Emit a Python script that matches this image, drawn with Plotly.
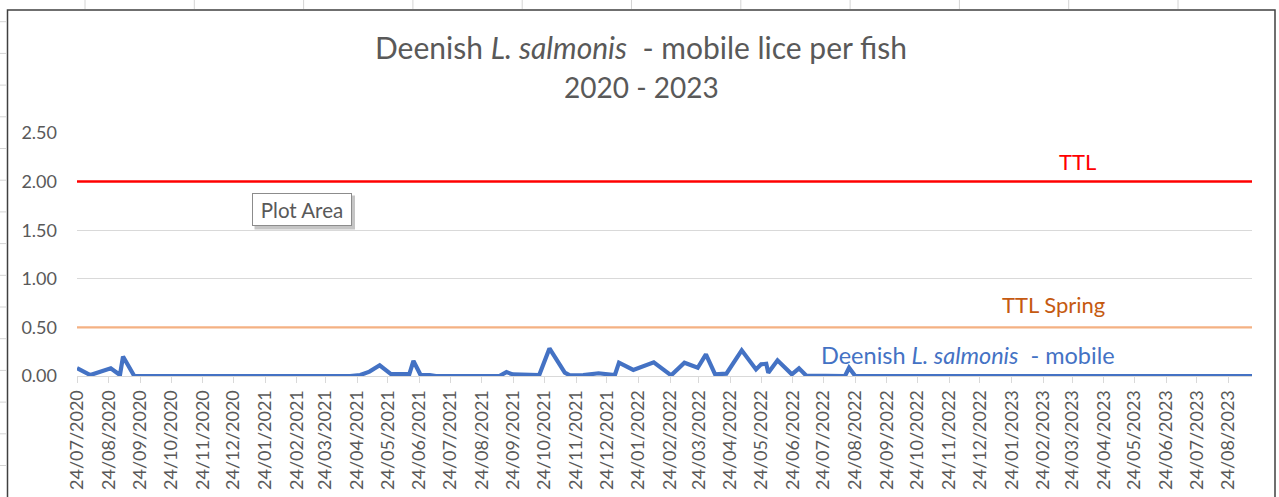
import plotly.graph_objects as go

# ---------------- data ----------------
dates = [
    "2020-07-24", "2020-08-06", "2020-08-26", "2020-09-04", "2020-09-07", "2020-09-18",
    "2021-04-17", "2021-04-27", "2021-05-06", "2021-05-16", "2021-05-27", "2021-06-14",
    "2021-06-18", "2021-06-25", "2021-07-04", "2021-07-10", "2021-09-10", "2021-09-17",
    "2021-09-23", "2021-10-19", "2021-10-29", "2021-11-13", "2021-11-18", "2021-12-01",
    "2021-12-16", "2022-01-01", "2022-01-05", "2022-01-19", "2022-02-08", "2022-02-25",
    "2022-03-10", "2022-03-23", "2022-03-31", "2022-04-09", "2022-04-20", "2022-05-05",
    "2022-05-19", "2022-05-24", "2022-05-29", "2022-05-31", "2022-06-09", "2022-06-23",
    "2022-06-30", "2022-07-07", "2022-08-14", "2022-08-18", "2022-08-24", "2023-05-25",
    "2023-06-03", "2023-06-18", "2023-09-16",
]
mobile = [
    0.08, 0.01, 0.08, 0.01, 0.20, 0.00,
    0.00, 0.01, 0.045, 0.11, 0.02, 0.02,
    0.155, 0.01, 0.01, 0.00, 0.00, 0.04,
    0.017, 0.01, 0.284, 0.034, 0.007, 0.01,
    0.028, 0.01, 0.137, 0.062, 0.14, 0.007,
    0.137, 0.085, 0.223, 0.017, 0.024, 0.264,
    0.068, 0.12, 0.126, 0.034, 0.161, 0.017,
    0.079, 0.005, 0.00, 0.085, 0.00, 0.00,
    0.01, 0.00, 0.00,
]
ttl_dates = ["2020-07-24", "2023-09-16"]
ttl = [2.0, 2.0]
ttl_spring = [0.5, 0.5]

tick_vals = [
    "2020-07-24", "2020-08-24", "2020-09-24", "2020-10-24", "2020-11-24", "2020-12-24",
    "2021-01-24", "2021-02-24", "2021-03-24", "2021-04-24", "2021-05-24", "2021-06-24",
    "2021-07-24", "2021-08-24", "2021-09-24", "2021-10-24", "2021-11-24", "2021-12-24",
    "2022-01-24", "2022-02-24", "2022-03-24", "2022-04-24", "2022-05-24", "2022-06-24",
    "2022-07-24", "2022-08-24", "2022-09-24", "2022-10-24", "2022-11-24", "2022-12-24",
    "2023-01-24", "2023-02-24", "2023-03-24", "2023-04-24", "2023-05-24", "2023-06-24",
    "2023-07-24", "2023-08-24",
]
tick_text = [
    "24/07/2020", "24/08/2020", "24/09/2020", "24/10/2020", "24/11/2020", "24/12/2020",
    "24/01/2021", "24/02/2021", "24/03/2021", "24/04/2021", "24/05/2021", "24/06/2021",
    "24/07/2021", "24/08/2021", "24/09/2021", "24/10/2021", "24/11/2021", "24/12/2021",
    "24/01/2022", "24/02/2022", "24/03/2022", "24/04/2022", "24/05/2022", "24/06/2022",
    "24/07/2022", "24/08/2022", "24/09/2022", "24/10/2022", "24/11/2022", "24/12/2022",
    "24/01/2023", "24/02/2023", "24/03/2023", "24/04/2023", "24/05/2023", "24/06/2023",
    "24/07/2023", "24/08/2023",
]

# ---------------- geometry helpers ----------------
W, H = 1279, 497
ML, MR, MT, MB = 77, 27, 133, 121
PW, PH = W - ML - MR, H - MT - MB


def px(x):
    return (x - ML) / PW


def py(y):
    return (H - MB - y) / PH


FONT = "Lato, 'Open Sans', sans-serif"
GRAY = "#595959"
BLUE = "#4472C4"

fig = go.Figure()
fig.add_trace(go.Scatter(x=ttl_dates, y=ttl_spring, mode="lines",
                         line=dict(color="#F4B183", width=2.2), name="TTL Spring"))
fig.add_trace(go.Scatter(x=ttl_dates, y=ttl, mode="lines",
                         line=dict(color="#FF0000", width=2.5), name="TTL"))
fig.add_trace(go.Scatter(x=dates, y=mobile, mode="lines",
                         line=dict(color=BLUE, width=4.2), name="Deenish L. salmonis - mobile"))

shapes = []
# chart border
shapes.append(dict(type="rect", xref="paper", yref="paper",
                   x0=px(7.5), x1=px(1275), y0=py(520), y1=py(10),
                   line=dict(color="#404040", width=1.5), fillcolor="rgba(0,0,0,0)", layer="above"))
# spreadsheet cell gridlines outside the chart
y = 21.7
while y < H:
    shapes.append(dict(type="line", xref="paper", yref="paper", x0=px(0), x1=px(6.5),
                       y0=py(y), y1=py(y), line=dict(color="#D4D4D4", width=1)))
    y += 31.7
x = 85.0
while x < 1275:
    shapes.append(dict(type="line", xref="paper", yref="paper", x0=px(x), x1=px(x),
                       y0=py(0), y1=py(9), line=dict(color="#D4D4D4", width=1)))
    x += 109.3
# "Plot Area" tooltip shadow
shapes.append(dict(type="rect", xref="paper", yref="paper",
                   x0=px(254.5), x1=px(355), y0=py(229.5), y1=py(195.5),
                   line=dict(width=0), fillcolor="rgba(110,110,110,0.40)", layer="above"))


def label(text, x, y, size, color, **kw):
    return dict(text=text, xref="paper", yref="paper", x=px(x), y=py(y), showarrow=False,
                xanchor="center", yanchor="middle",
                font=dict(family=FONT, size=size, color=color), **kw)


annotations = [
    label("Deenish <i>L. salmonis</i>  - mobile lice per fish", 641, 47, 30, GRAY),
    label("2020 - 2023", 641, 87, 28, GRAY),
    label("TTL", 1077, 161, 22, "#FF0000"),
    label("TTL Spring", 1053, 304, 22, "#C55A11"),
    label("Deenish <i>L. salmonis</i>  - mobile", 968, 355, 23.5, BLUE),
    label("Plot Area", 301.5, 209.5, 20.5, GRAY,
          width=94, height=27, borderpad=2, borderwidth=1, bordercolor="#8C8C8C",
          bgcolor="white", align="center"),
]

fig.update_layout(
    width=W, height=H,
    margin=dict(l=ML, r=MR, t=MT, b=MB, autoexpand=False),
    paper_bgcolor="white", plot_bgcolor="white",
    showlegend=False,
    shapes=shapes, annotations=annotations,
    font=dict(family=FONT, color=GRAY),
    xaxis=dict(type="date", range=["2020-07-24", "2023-09-16"], automargin=False,
               tickmode="array", tickvals=tick_vals, ticktext=tick_text,
               tickangle=-90, tickfont=dict(family=FONT, size=18, color=GRAY),
               showgrid=False, showline=True, linecolor="#D9D9D9", linewidth=1,
               ticks="outside", ticklen=6, tickcolor="#D9D9D9", zeroline=False,
               ticklabelstandoff=0),
    yaxis=dict(range=[0, 2.5], dtick=0.5, tick0=0, tickformat=".2f", automargin=False,
               tickfont=dict(family=FONT, size=18, color=GRAY),
               showgrid=True, gridcolor="#D9D9D9", gridwidth=1, zeroline=False,
               showline=False, ticks="", ticklabelstandoff=19),
)

fig.write_html("out.html", config={"displayModeBar": False},
               post_script="document.body.style.margin='0';")
